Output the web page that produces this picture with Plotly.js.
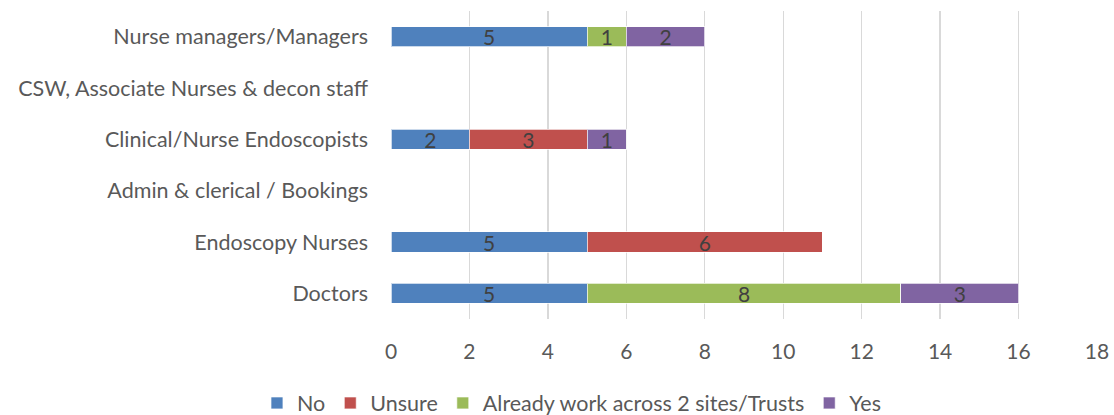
<!DOCTYPE html>
<html>
<head>
<meta charset="utf-8">
<script src="https://cdn.plot.ly/plotly-3.0.1.min.js"></script>
<style>html,body{margin:0;padding:0;background:#fff;}#chart{width:1114px;height:415px;}</style>
</head>
<body>
<div id="chart"></div>
<script>
const categories = ["Doctors", "Endoscopy Nurses", "Admin & clerical / Bookings", "Clinical/Nurse Endoscopists", "CSW, Associate Nurses & decon staff", "Nurse managers/Managers"];
const seriesNames = ["No", "Unsure", "Already work across 2 sites/Trusts", "Yes"];
const noVals = [5, 5, null, 2, null, 5];
const unsureVals = [null, 6, null, 3, null, null];
const alreadyVals = [8, null, null, null, null, 1];
const yesVals = [3, null, null, 1, null, 2];
const xTicks = [0, 2, 4, 6, 8, 10, 12, 14, 16, 18];
const colors = ["#4F81BD", "#C0504D", "#9BBB59", "#8064A2"];

const allVals = [noVals, unsureVals, alreadyVals, yesVals];
const traces = allVals.map((vals, i) => ({
  type: 'bar',
  orientation: 'h',
  name: seriesNames[i],
  y: categories,
  x: vals,
  text: vals.map(v => v == null ? '' : String(v)),
  textposition: 'inside',
  insidetextanchor: 'middle',
  textangle: 0,
  constraintext: 'none',
  textfont: {family: 'Lato, sans-serif', size: 21, color: '#404040'},
  marker: {color: colors[i], line: {color: 'rgba(255,255,255,0.7)', width: 1}},
  hoverinfo: 'skip'
}));

const layout = {
  width: 1114, height: 415,
  margin: {l: 391, r: 17, t: 11, b: 96},
  barmode: 'stack',
  bargap: 0.61,
  paper_bgcolor: '#fff', plot_bgcolor: '#fff',
  font: {family: 'Lato, sans-serif', size: 22, color: '#595959'},
  showlegend: true,
  xaxis: {
    range: [0, 18], tickvals: xTicks, ticktext: xTicks.map(String),
    showgrid: true, gridcolor: '#d9d9d9', gridwidth: 1.3,
    zeroline: false, showline: false, ticks: '',
    ticklabelstandoff: 18,
    tickfont: {size: 21, color: '#595959'},
    fixedrange: true
  },
  yaxis: {
    type: 'category', categoryorder: 'array', categoryarray: categories,
    showgrid: false, zeroline: false, showline: false, ticks: '',
    ticklabelstandoff: 22,
    tickfont: {size: 21.5, color: '#595959'},
    fixedrange: true
  },
  legend: {
    orientation: 'h', xref: 'container', yref: 'container',
    x: 0.513, xanchor: 'center', y: 0.029, yanchor: 'middle',
    font: {size: 21.5, color: '#595959'},
    traceorder: 'normal', itemwidth: 30, tracegroupgap: 0
  }
};

Plotly.newPlot('chart', traces, layout, {displayModeBar: false, staticPlot: true});
</script>
</body>
</html>
